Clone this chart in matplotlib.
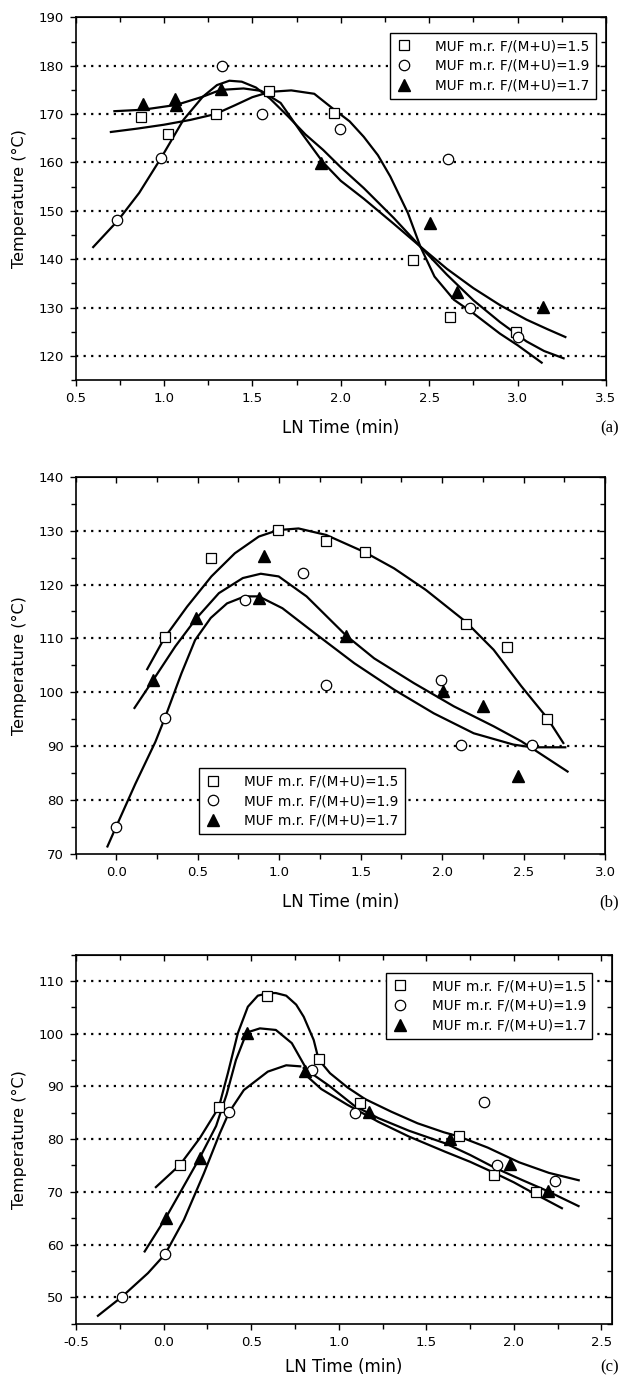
import matplotlib
matplotlib.use("Agg")
import matplotlib.pyplot as plt
from matplotlib.ticker import MultipleLocator, NullFormatter, FormatStrFormatter

plt.rcParams['font.family'] = ['DejaVu Sans']
plt.rcParams['axes.unicode_minus'] = False

labels = ['MUF m.r. F/(M+U)=1.5', 'MUF m.r. F/(M+U)=1.9', 'MUF m.r. F/(M+U)=1.7']

# ---- panel (a) data -------------------------------------------------------
a_x15 = [0.868, 1.023, 1.294, 1.596, 1.96, 2.41, 2.616, 2.99]
a_y15 = [169.4, 165.8, 170.0, 174.7, 170.3, 139.8, 128.0, 125.0]
a_x19 = [0.737, 0.985, 1.328, 1.556, 1.993, 2.605, 2.73, 3.0]
a_y19 = [148.0, 161.0, 180.0, 170.0, 166.9, 160.8, 129.9, 123.9]
a_x17 = [0.883, 1.06, 1.07, 1.323, 1.888, 2.503, 2.66, 3.146]
a_y17 = [172.1, 173.1, 171.8, 175.1, 159.9, 147.5, 133.3, 130.1]

# fitted curves
a_fx15 = [0.70, 0.85, 1.0, 1.15, 1.29, 1.40, 1.50, 1.60, 1.72, 1.85, 1.96, 2.05, 2.13,
          2.21, 2.28, 2.38, 2.45, 2.53, 2.64, 2.75, 2.9, 3.0, 3.136]
a_fy15 = [166.3, 167.0, 167.8, 168.8, 170.0, 171.8, 173.5, 174.6, 174.9, 174.2, 171.0, 168.5, 165.3,
          161.5, 157.1, 149.5, 142.6, 136.4, 131.6, 128.8, 124.6, 122.2, 118.6]
a_fx19 = [0.60, 0.74, 0.86, 0.985, 1.11, 1.22, 1.30, 1.37, 1.44, 1.52, 1.60, 1.70, 1.80, 1.90,
          2.0, 2.13, 2.3, 2.45, 2.6, 2.75, 2.9, 3.05, 3.15, 3.26]
a_fy19 = [142.5, 148.0, 153.7, 161.0, 168.8, 173.6, 176.0, 176.9, 176.7, 175.5, 173.2, 169.6, 165.8, 162.6,
          159.0, 154.7, 148.5, 142.6, 136.8, 131.5, 127.0, 123.0, 121.0, 119.5]
a_fx17 = [0.72, 0.88, 1.07, 1.22, 1.32, 1.45, 1.55, 1.66, 1.78, 1.90, 2.0, 2.13, 2.3, 2.45,
          2.6, 2.75, 2.9, 3.05, 3.17, 3.27]
a_fy17 = [170.6, 170.9, 171.9, 173.6, 175.0, 175.3, 174.8, 172.3, 166.0, 160.0, 156.2, 152.5, 147.3, 142.6,
          138.0, 134.0, 130.5, 127.5, 125.5, 123.9]

# ---- panel (b) data -------------------------------------------------------
b_x15 = [0.298, 0.584, 0.994, 1.288, 1.525, 2.145, 2.40, 2.646]
b_y15 = [110.2, 125.0, 130.1, 128.0, 126.0, 112.7, 108.5, 95.0]
b_x19 = [0.0, 0.298, 0.789, 1.148, 1.288, 1.994, 2.116, 2.55]
b_y19 = [75.1, 95.2, 117.1, 122.2, 101.3, 102.3, 90.2, 90.2]
b_x17 = [0.227, 0.491, 0.875, 0.904, 1.412, 2.008, 2.248, 2.463]
b_y17 = [102.3, 113.7, 117.5, 125.3, 110.5, 100.3, 97.4, 84.4]

b_fx15 = [0.19, 0.298, 0.435, 0.584, 0.728, 0.875, 0.994, 1.119, 1.288, 1.525, 1.705, 1.90,
          2.145, 2.316, 2.487, 2.646, 2.744]
b_fy15 = [104.3, 110.2, 115.9, 121.5, 125.8, 128.9, 130.1, 130.4, 129.2, 126.0, 123.0, 119.0,
          113.1, 107.9, 101.1, 95.2, 90.6]
b_fx17 = [0.112, 0.227, 0.362, 0.491, 0.63, 0.777, 0.887, 0.997, 1.168, 1.412, 1.583, 1.827,
          2.072, 2.316, 2.487, 2.77]
b_fy17 = [97.1, 102.3, 108.5, 113.7, 118.4, 121.2, 122.0, 121.5, 117.8, 110.5, 106.3, 101.7,
          97.4, 93.7, 90.9, 85.3]
b_fx19 = [-0.054, 0.0, 0.117, 0.24, 0.298, 0.40, 0.484, 0.58, 0.68, 0.789, 0.875, 1.02, 1.217,
          1.461, 1.705, 1.949, 2.194, 2.438, 2.55, 2.756]
b_fy19 = [71.4, 75.1, 83.0, 90.8, 95.2, 103.5, 109.7, 113.8, 116.5, 117.8, 117.8, 115.6, 111.0,
          105.4, 100.5, 96.1, 92.4, 90.3, 89.8, 89.8]

# ---- panel (c) data -------------------------------------------------------
c_x15 = [0.093, 0.315, 0.591, 0.885, 1.12, 1.686, 1.884, 2.124]
c_y15 = [75.1, 86.0, 107.2, 95.1, 86.9, 80.6, 73.2, 69.9]
c_x19 = [-0.238, 0.009, 0.374, 0.846, 1.09, 1.827, 1.902, 2.233]
c_y19 = [50.1, 58.2, 85.1, 93.2, 85.0, 87.1, 75.1, 72.1]
c_x17 = [0.013, 0.207, 0.474, 0.807, 1.17, 1.638, 1.975, 2.192]
c_y17 = [65.1, 76.5, 100.2, 93.0, 85.2, 80.0, 75.2, 70.2]

c_fx15 = [-0.044, 0.093, 0.207, 0.315, 0.367, 0.424, 0.481, 0.538, 0.60, 0.641, 0.70, 0.757, 0.80,
          0.857, 0.885, 0.95, 1.05, 1.15, 1.30, 1.45, 1.60, 1.686, 1.85, 2.03, 2.2, 2.37]
c_fy15 = [70.9, 75.1, 80.2, 86.0, 92.5, 100.1, 105.1, 107.2, 107.7, 107.7, 107.2, 105.5, 103.2,
          98.8, 95.1, 92.5, 89.8, 87.6, 85.2, 83.0, 81.3, 80.5, 78.4, 75.6, 73.6, 72.2]
c_fx17 = [-0.108, 0.013, 0.10, 0.207, 0.30, 0.36, 0.413, 0.474, 0.55, 0.641, 0.732, 0.807]
c_fy17 = [58.7, 65.1, 70.2, 76.5, 82.5, 88.5, 95.0, 100.2, 101.0, 100.7, 98.2, 93.8]
c_fx19 = [-0.375, -0.238, -0.089, 0.009, 0.116, 0.23, 0.321, 0.374, 0.458, 0.595, 0.70, 0.78]
c_fy19 = [46.5, 50.1, 54.6, 58.2, 64.7, 73.5, 81.1, 85.1, 89.3, 92.8, 94.0, 93.8]
c_fxM = [0.80, 0.95, 1.09, 1.225, 1.40, 1.608, 1.75, 1.895, 2.05, 2.182, 2.369]
c_fyM = [93.5, 90.0, 86.3, 84.0, 81.6, 79.2, 77.0, 74.5, 72.2, 70.3, 67.3]
c_fxL = [0.80, 0.90, 1.05, 1.225, 1.40, 1.608, 1.75, 1.875, 2.0, 2.115, 2.274]
c_fyL = [92.5, 89.5, 86.5, 83.3, 80.5, 77.6, 75.7, 73.8, 71.8, 69.7, 66.9]


def panel(ax, pts, fits, xlim, ylim, grid_y, tag, leg_loc, leg_anchor, xlab_y):
    for xs, ys in fits:
        ax.plot(xs, ys, '-', color='black', lw=1.6, zorder=2, solid_joinstyle='round')
    (x15, y15), (x19, y19), (x17, y17) = pts
    ax.plot(x15, y15, 's', ms=6.5, mfc='white', mec='black', mew=0.9, ls='none', zorder=3, label=labels[0])
    ax.plot(x19, y19, 'o', ms=7.5, mfc='white', mec='black', mew=0.9, ls='none', zorder=3, label=labels[1])
    ax.plot(x17, y17, '^', ms=8, color='black', ls='none', zorder=3, label=labels[2])
    for g in grid_y:
        ax.axhline(g, color='black', lw=1.6, ls=(0, (1, 2.4)), zorder=1)
    ax.set_xlim(*xlim)
    ax.set_ylim(*ylim)
    ax.xaxis.set_major_locator(MultipleLocator(0.5))
    ax.xaxis.set_minor_locator(MultipleLocator(0.25))
    ax.yaxis.set_major_locator(MultipleLocator(10))
    ax.yaxis.set_minor_locator(MultipleLocator(5))
    ax.xaxis.set_major_formatter(FormatStrFormatter('%.1f'))
    ax.tick_params(which='both', direction='out', labelsize=9.5, width=1.0, pad=4)
    ax.tick_params(which='major', length=4.5)
    ax.tick_params(which='minor', length=3.5)
    for s in ax.spines.values():
        s.set_linewidth(1.2)
    # top / right ticks pointing inwards
    top = ax.secondary_xaxis('top')
    top.xaxis.set_major_locator(MultipleLocator(0.5))
    top.xaxis.set_minor_locator(MultipleLocator(0.25))
    top.xaxis.set_major_formatter(NullFormatter())
    top.tick_params(which='both', direction='in', width=1.0)
    top.tick_params(which='major', length=4.5)
    top.tick_params(which='minor', length=3.5)
    right = ax.secondary_yaxis('right')
    right.yaxis.set_major_locator(MultipleLocator(10))
    right.yaxis.set_minor_locator(MultipleLocator(5))
    right.yaxis.set_major_formatter(NullFormatter())
    right.tick_params(which='both', direction='in', width=1.0)
    right.tick_params(which='major', length=4.5)
    right.tick_params(which='minor', length=3.5)

    ax.set_xlabel('LN Time (min)', fontsize=12, va='center')
    ax.xaxis.set_label_coords(0.5, xlab_y)
    ax.set_ylabel('Temperature (°C)', fontsize=11.5, va='center')
    ax.yaxis.set_label_coords(-0.106, 0.5)
    # panel tag, right aligned near the figure edge, level with the x label
    y_fig = fig.transFigure.inverted().transform(ax.transAxes.transform((0, xlab_y)))[1]
    fig.text(0.997, y_fig, tag, ha='right', va='center', fontsize=12, family='Liberation Serif')
    leg = ax.legend(loc=leg_loc, bbox_to_anchor=leg_anchor, borderaxespad=0, fontsize=9.8,
                    frameon=True, fancybox=False, edgecolor='black', framealpha=1,
                    handletextpad=1.7, borderpad=0.45, labelspacing=0.42, handlelength=1.2)
    leg.get_frame().set_linewidth(1.0)


fig = plt.figure(figsize=(6.21, 13.79), dpi=100)
ax_a = fig.add_axes([0.1216, 0.7244, 0.8543, 0.2630])
ax_b = fig.add_axes([0.1216, 0.3807, 0.8527, 0.2736])
ax_c = fig.add_axes([0.1224, 0.0401, 0.8631, 0.2677])

panel(ax_a, [(a_x15, a_y15), (a_x19, a_y19), (a_x17, a_y17)],
      [(a_fx15, a_fy15), (a_fx19, a_fy19), (a_fx17, a_fy17)],
      (0.5, 3.5), (115, 190), range(120, 190, 10), '(a)', 'upper right', (0.981, 0.957), -0.133)
panel(ax_b, [(b_x15, b_y15), (b_x19, b_y19), (b_x17, b_y17)],
      [(b_fx15, b_fy15), (b_fx19, b_fy19), (b_fx17, b_fy17)],
      (-0.25, 3.0), (70, 140), range(80, 140, 10), '(b)', 'lower left', (0.233, 0.053), -0.128)
panel(ax_c, [(c_x15, c_y15), (c_x19, c_y19), (c_x17, c_y17)],
      [(c_fx15, c_fy15), (c_fx17, c_fy17), (c_fx19, c_fy19), (c_fxM, c_fyM), (c_fxL, c_fyL)],
      (-0.5, 2.56), (45, 115), range(50, 115, 10), '(c)', 'upper right', (0.963, 0.950), -0.118)

fig.savefig('out.png', dpi=100)
